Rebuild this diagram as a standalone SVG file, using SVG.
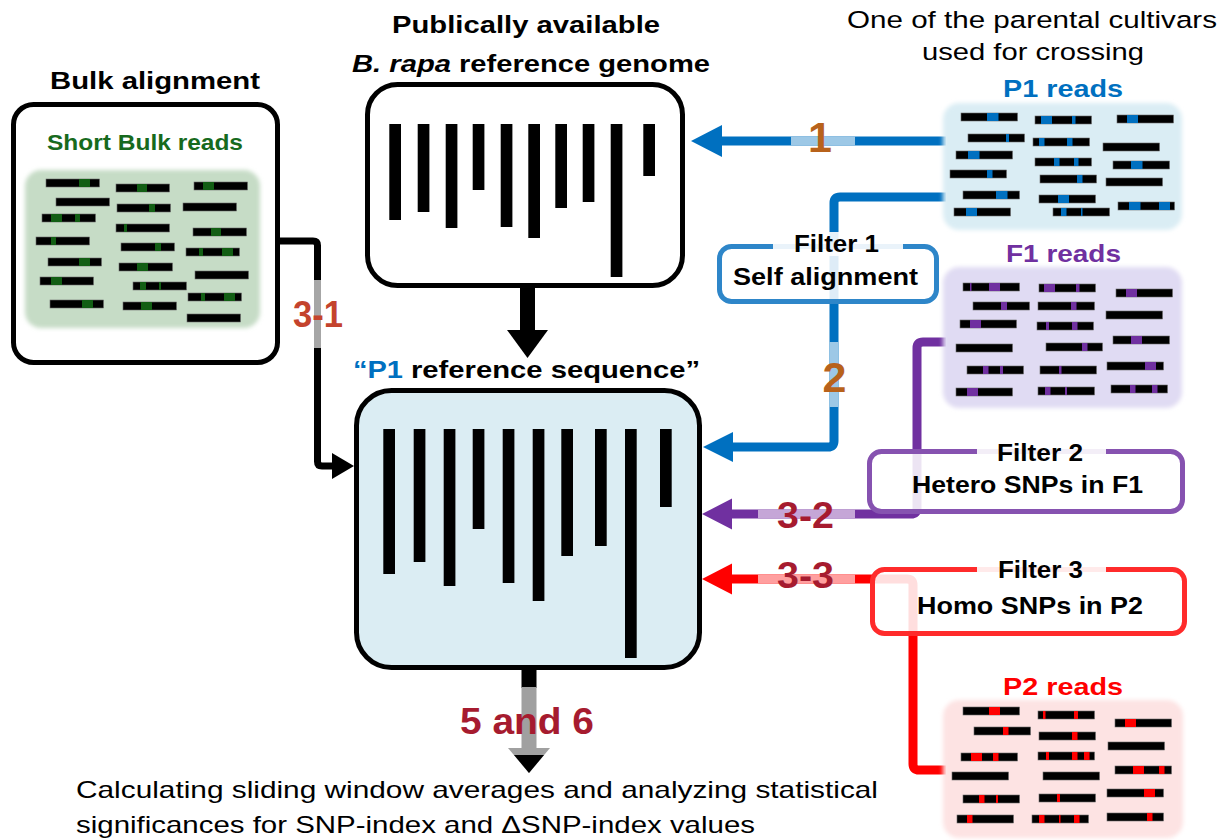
<svg xmlns="http://www.w3.org/2000/svg" width="1232" height="840" viewBox="0 0 1232 840">
<style>
text{font-family:"Liberation Sans",Arial,Helvetica,sans-serif;}
.h{font-size:24.5px;font-weight:bold;fill:#000}
.f{font-size:23px;font-weight:bold;fill:#000}
.n{font-size:24.5px;fill:#000}
.num{font-size:37px;font-weight:bold}
.rd{fill:#000;stroke:#6b6b6b;stroke-width:0.6}
.g{fill:#125e14}
.bl{fill:#0070c0}
.pu{fill:#7030a0}
.re{fill:#ff0000}
.bar{fill:#000}
.box{fill:#fff;stroke:#000;stroke-width:5}
.ln{fill:none;stroke-linejoin:round;stroke-linecap:butt}
.lab{fill:#fff;fill-opacity:0.9}
.fb{fill:#fff;fill-opacity:0.87;stroke-width:5}
</style>
<defs>
<filter id="soft" x="-5%" y="-5%" width="110%" height="110%"><feGaussianBlur stdDeviation="2"/></filter>
</defs>

<g id="connectors">
  <!-- 1: P1 reads to reference genome -->
  <path class="ln" d="M946,141 H721" stroke="#0070c0" stroke-width="9"/>
  <path class="ln" d="M791,141 H855" stroke="#9dc8e6" stroke-width="9"/>
  <polygon points="691,141 722,125 722,157" fill="#0070c0"/>
  <!-- 2: self alignment to P1 reference -->
  <path class="ln" d="M946,197 H840 Q834,197 834,203 V441 Q834,447 828,447 H732" stroke="#0070c0" stroke-width="9"/>
  <path class="ln" d="M834,342 V407" stroke="#9dc8e6" stroke-width="9"/>
  <polygon points="703,447 733,432 733,462" fill="#0070c0"/>
  <!-- 3-2: F1 -->
  <path class="ln" d="M946,342 H923 Q917,342 917,348 V508 Q917,514 911,514 H731" stroke="#7030a0" stroke-width="9"/>
  <path class="ln" d="M758,514 H855" stroke="#c5a6d7" stroke-width="9"/>
  <polygon points="702,514 732,498.5 732,529.5" fill="#7030a0"/>
  <!-- 3-3: P2 -->
  <path class="ln" d="M946,770 H919 Q913,770 913,764 V585 Q913,579 907,579 H731" stroke="#ff0000" stroke-width="9"/>
  <path class="ln" d="M758,579 H855" stroke="#ff9f9f" stroke-width="9"/>
  <polygon points="702,579 732,563.5 732,594.5" fill="#ff0000"/>
  <!-- 3-1: bulk -->
  <path class="ln" d="M280,241 H313 Q317.5,241 317.5,245.5 V461.5 Q317.5,466 322,466 H334" stroke="#000" stroke-width="7"/>
  <path class="ln" d="M317.5,280 V348" stroke="#a6a6a6" stroke-width="7"/>
  <polygon points="354,466 332,453 332,479" fill="#000"/>
  <!-- reference genome to P1 reference -->
  <rect x="520" y="286" width="15" height="46" fill="#000"/>
  <polygon points="507,330 548,330 527.5,358" fill="#000"/>
  <!-- 5 and 6 -->
  <rect x="521.5" y="669" width="15" height="19" fill="#000"/>
  <rect x="521.5" y="687" width="15" height="62" fill="#a0a0a0"/>
  <polygon points="508,748 550,748 529,773" fill="#a0a0a0"/>
  <polygon points="514,755 544,755 529,773" fill="#000"/>
  <text class="num" x="820" y="152" font-size="43" text-anchor="middle" fill="#b8621b" style="font-size:43px">1</text>
  <text class="num" x="834.5" y="392" text-anchor="middle" fill="#b8621b" style="font-size:43px">2</text>
  <text class="num" x="293" y="327" fill="#c4432d" textLength="50" lengthAdjust="spacingAndGlyphs">3-1</text>
  <text class="num" x="777" y="528" fill="#a61b2f" textLength="57" lengthAdjust="spacingAndGlyphs">3-2</text>
  <text class="num" x="777" y="588" fill="#a61b2f" textLength="57" lengthAdjust="spacingAndGlyphs">3-3</text>
  <text class="num" x="460" y="734" fill="#a61b2f" textLength="134" lengthAdjust="spacingAndGlyphs">5 and 6</text>
</g>

<g id="bulk">
  <text class="h" x="50" y="89" textLength="210" lengthAdjust="spacingAndGlyphs">Bulk alignment</text>
  <rect class="box" x="13.5" y="104.5" width="264" height="258" rx="20"/>
  <text x="47" y="150" style="font-size:22px;font-weight:bold" fill="#176a1d" textLength="196" lengthAdjust="spacingAndGlyphs">Short Bulk reads</text>
  <rect x="25" y="170" width="235" height="158" rx="16" fill="#c6dcc6" filter="url(#soft)"/>
  <g>
    <rect class="rd" x="46" y="179" width="53.5" height="8"/><rect class="g" x="79" y="179" width="11" height="8"/>
    <rect class="rd" x="56" y="198" width="53.5" height="8"/>
    <rect class="rd" x="42" y="214" width="53.5" height="8"/><rect class="g" x="51" y="214" width="11" height="8"/><rect class="g" x="75" y="214" width="5" height="8"/>
    <rect class="rd" x="36" y="237" width="53.5" height="8"/><rect class="g" x="51" y="237" width="5" height="8"/>
    <rect class="rd" x="48" y="258" width="53.5" height="8"/><rect class="g" x="79" y="258" width="11" height="8"/>
    <rect class="rd" x="40" y="277" width="53.5" height="8"/><rect class="g" x="51" y="277" width="11" height="8"/>
    <rect class="rd" x="50" y="300" width="53.5" height="8"/><rect class="g" x="82" y="300" width="11" height="8"/>
    <rect class="rd" x="116" y="184" width="53.5" height="8"/><rect class="g" x="137" y="184" width="10" height="8"/>
    <rect class="rd" x="117" y="204" width="53.5" height="8"/><rect class="g" x="149" y="204" width="6" height="8"/>
    <rect class="rd" x="116" y="224" width="53.5" height="8"/><rect class="g" x="124" y="224" width="3" height="8"/>
    <rect class="rd" x="121" y="243" width="53.5" height="8"/><rect class="g" x="155" y="243" width="6" height="8"/>
    <rect class="rd" x="119" y="263" width="53.5" height="8"/><rect class="g" x="137" y="263" width="11" height="8"/>
    <rect class="rd" x="133" y="282" width="53.5" height="8"/><rect class="g" x="140" y="282" width="6" height="8"/><rect class="g" x="159" y="282" width="2" height="8"/>
    <rect class="rd" x="123" y="302" width="53.5" height="8"/><rect class="g" x="141" y="302" width="11" height="8"/>
    <rect class="rd" x="194" y="182" width="53.5" height="8"/><rect class="g" x="203" y="182" width="11" height="8"/>
    <rect class="rd" x="183" y="203" width="53.5" height="8"/>
    <rect class="rd" x="193" y="228" width="53.5" height="8"/><rect class="g" x="211" y="228" width="10" height="8"/>
    <rect class="rd" x="186" y="248" width="53.5" height="8"/><rect class="g" x="199" y="248" width="4" height="8"/><rect class="g" x="222" y="248" width="11" height="8"/>
    <rect class="rd" x="195" y="271" width="53.5" height="8"/>
    <rect class="rd" x="188" y="293" width="53.5" height="8"/><rect class="g" x="201" y="293" width="4" height="8"/><rect class="g" x="224" y="293" width="11" height="8"/>
    <rect class="rd" x="187" y="314" width="53.5" height="8"/>
  </g>
</g>

<g id="reference-genome">
  <text class="h" x="392" y="33" textLength="268" lengthAdjust="spacingAndGlyphs">Publically available</text>
  <text class="h" x="352" y="72" font-style="italic" textLength="99" lengthAdjust="spacingAndGlyphs">B. rapa</text>
  <text class="h" x="459" y="72" textLength="251" lengthAdjust="spacingAndGlyphs">reference genome</text>
  <rect class="box" x="367.5" y="84.5" width="315" height="201" rx="30"/>
  <rect class="bar" x="389.3" y="124" width="11.7" height="96"/>
  <rect class="bar" x="417.7" y="124" width="11.7" height="88"/>
  <rect class="bar" x="445.7" y="124" width="11.7" height="104"/>
  <rect class="bar" x="472.7" y="124" width="11.7" height="66"/>
  <rect class="bar" x="500.7" y="124" width="11.7" height="103"/>
  <rect class="bar" x="528.3" y="124" width="11.7" height="114"/>
  <rect class="bar" x="555.3" y="124" width="11.7" height="84"/>
  <rect class="bar" x="582.7" y="124" width="11.7" height="78"/>
  <rect class="bar" x="610.7" y="124" width="11.7" height="153"/>
  <rect class="bar" x="643.3" y="124" width="11.7" height="52"/>
</g>

<g id="p1-reference">
  <text class="h" x="353" y="378" textLength="50" lengthAdjust="spacingAndGlyphs" fill="#0070c0" style="fill:#0070c0">“P1</text>
  <text class="h" x="411" y="378" textLength="289" lengthAdjust="spacingAndGlyphs">reference sequence”</text>
  <rect class="box" x="356.5" y="390.5" width="343" height="277" rx="35" style="fill:#dbedf3"/>
  <rect class="bar" x="383.3" y="429" width="11.7" height="145"/>
  <rect class="bar" x="413.7" y="429" width="11.7" height="133"/>
  <rect class="bar" x="443.7" y="429" width="11.7" height="157"/>
  <rect class="bar" x="472.7" y="429" width="11.7" height="100"/>
  <rect class="bar" x="502.7" y="429" width="11.7" height="154"/>
  <rect class="bar" x="532.7" y="429" width="11.7" height="172"/>
  <rect class="bar" x="561.3" y="429" width="11.7" height="127"/>
  <rect class="bar" x="595" y="429" width="11.7" height="117"/>
  <rect class="bar" x="625" y="429" width="11.7" height="229"/>
  <rect class="bar" x="660" y="429" width="11.7" height="78"/>
</g>

<g id="p1-reads">
  <text class="n" x="847" y="28" textLength="370" lengthAdjust="spacingAndGlyphs">One of the parental cultivars</text>
  <text class="n" x="922" y="60" textLength="222" lengthAdjust="spacingAndGlyphs">used for crossing</text>
  <text class="h" x="1003" y="97" textLength="120" lengthAdjust="spacingAndGlyphs" style="fill:#0070c0">P1 reads</text>
  <rect x="943" y="103" width="239" height="127" rx="16" fill="#daedf4" filter="url(#soft)"/>
  <rect class="rd" x="961" y="113" width="56.5" height="8"/><rect class="bl" x="987" y="113" width="11.5" height="8"/>
  <rect class="rd" x="968" y="134" width="56.5" height="8"/><rect class="bl" x="1006" y="134" width="3" height="8"/>
  <rect class="rd" x="956" y="151" width="56.5" height="8"/><rect class="bl" x="968" y="151" width="11.5" height="8"/>
  <rect class="rd" x="950" y="170" width="56.5" height="8"/><rect class="bl" x="987" y="170" width="5.5" height="8"/>
  <rect class="rd" x="963" y="191" width="56.5" height="8"/><rect class="bl" x="996" y="191" width="11.5" height="8"/>
  <rect class="rd" x="954" y="208" width="56.5" height="8"/><rect class="bl" x="966" y="208" width="11" height="8"/>
  <rect class="rd" x="1035" y="116" width="56.5" height="8"/><rect class="bl" x="1041" y="116" width="11" height="8"/><rect class="bl" x="1072" y="116" width="3.5" height="8"/>
  <rect class="rd" x="1033" y="138" width="56.5" height="8"/><rect class="bl" x="1039" y="138" width="5.5" height="8"/><rect class="bl" x="1067" y="138" width="5.5" height="8"/>
  <rect class="rd" x="1035" y="158" width="56.5" height="8"/><rect class="bl" x="1054" y="158" width="5.5" height="8"/><rect class="bl" x="1074" y="158" width="4.5" height="8"/>
  <rect class="rd" x="1040" y="175" width="56.5" height="8"/><rect class="bl" x="1077" y="175" width="5.5" height="8"/>
  <rect class="rd" x="1039" y="195" width="56.5" height="8"/><rect class="bl" x="1058" y="195" width="11" height="8"/>
  <rect class="rd" x="1053" y="208" width="56.5" height="8"/><rect class="bl" x="1061" y="208" width="5.5" height="8"/><rect class="bl" x="1081" y="208" width="1.5" height="8"/>
  <rect class="rd" x="1117" y="115" width="56.5" height="8"/><rect class="bl" x="1127" y="115" width="11" height="8"/>
  <rect class="rd" x="1103" y="143" width="56.5" height="8"/>
  <rect class="rd" x="1113" y="161" width="56.5" height="8"/><rect class="bl" x="1131" y="161" width="11.5" height="8"/>
  <rect class="rd" x="1106" y="178" width="56.5" height="8"/>
  <rect class="rd" x="1118" y="202" width="56.5" height="8"/><rect class="bl" x="1129" y="202" width="11.5" height="8"/><rect class="bl" x="1159" y="202" width="11" height="8"/>
</g>

<g id="f1-reads">
  <text class="h" x="1006" y="262" textLength="115" lengthAdjust="spacingAndGlyphs" style="fill:#7030a0">F1 reads</text>
  <rect x="943" y="267" width="239" height="141" rx="16" fill="#e0dbf3" filter="url(#soft)"/>
  <rect class="rd" x="963" y="283" width="56.5" height="8"/><rect class="pu" x="970" y="283" width="1.5" height="8"/><rect class="pu" x="989" y="283" width="11" height="8"/>
  <rect class="rd" x="973" y="302" width="56.5" height="8"/><rect class="pu" x="1001" y="302" width="6" height="8"/>
  <rect class="rd" x="960" y="320" width="56.5" height="8"/><rect class="pu" x="970" y="320" width="11" height="8"/>
  <rect class="rd" x="956" y="344" width="56.5" height="8"/>
  <rect class="rd" x="967" y="366" width="56.5" height="8"/><rect class="pu" x="983" y="366" width="5.5" height="8"/><rect class="pu" x="1000" y="366" width="3" height="8"/>
  <rect class="rd" x="956" y="388" width="56.5" height="8"/><rect class="pu" x="967" y="388" width="11" height="8"/>
  <rect class="rd" x="1039" y="284" width="56.5" height="8"/><rect class="pu" x="1044" y="284" width="11" height="8"/><rect class="pu" x="1076" y="284" width="3.5" height="8"/>
  <rect class="rd" x="1038" y="302" width="56.5" height="8"/><rect class="pu" x="1071" y="302" width="5.5" height="8"/>
  <rect class="rd" x="1037" y="322" width="56.5" height="8"/><rect class="pu" x="1046" y="322" width="3" height="8"/><rect class="pu" x="1072" y="322" width="5.5" height="8"/>
  <rect class="rd" x="1046" y="343" width="56.5" height="8"/><rect class="pu" x="1082" y="343" width="5.5" height="8"/>
  <rect class="rd" x="1040" y="366" width="56.5" height="8"/><rect class="pu" x="1059" y="366" width="2.5" height="8"/>
  <rect class="rd" x="1038" y="387" width="56.5" height="8"/><rect class="pu" x="1045" y="387" width="5.5" height="8"/><rect class="pu" x="1065" y="387" width="2" height="8"/>
  <rect class="rd" x="1116" y="289" width="56.5" height="8"/><rect class="pu" x="1126" y="289" width="11" height="8"/>
  <rect class="rd" x="1106" y="311" width="56.5" height="8"/>
  <rect class="rd" x="1113" y="336" width="56.5" height="8"/><rect class="pu" x="1131" y="336" width="11" height="8"/>
  <rect class="rd" x="1107" y="362" width="56.5" height="8"/><rect class="pu" x="1145" y="362" width="11" height="8"/>
  <rect class="rd" x="1111" y="385" width="56.5" height="8"/><rect class="pu" x="1130" y="385" width="5.5" height="8"/><rect class="pu" x="1152" y="385" width="5.5" height="8"/>
</g>

<g id="p2-reads">
  <text class="h" x="1003" y="695" textLength="120" lengthAdjust="spacingAndGlyphs" style="fill:#ff0000">P2 reads</text>
  <rect x="943" y="700" width="240" height="138" rx="16" fill="#fde3e3" filter="url(#soft)"/>
  <rect class="rd" x="963" y="707" width="56.5" height="8"/><rect class="re" x="989" y="707" width="11" height="8"/>
  <rect class="rd" x="974" y="727" width="56.5" height="8"/><rect class="re" x="1003" y="727" width="5.5" height="8"/>
  <rect class="rd" x="961" y="753" width="56.5" height="8"/><rect class="re" x="971" y="753" width="11" height="8"/><rect class="re" x="993" y="753" width="5.5" height="8"/>
  <rect class="rd" x="952" y="772" width="56.5" height="8"/>
  <rect class="rd" x="963" y="795" width="56.5" height="8"/><rect class="re" x="979" y="795" width="5.5" height="8"/><rect class="re" x="996" y="795" width="2" height="8"/>
  <rect class="rd" x="957" y="815" width="56.5" height="8"/><rect class="re" x="967" y="815" width="5.5" height="8"/>
  <rect class="rd" x="1038" y="711" width="56.5" height="8"/><rect class="re" x="1043" y="711" width="2.5" height="8"/><rect class="re" x="1074" y="711" width="4" height="8"/>
  <rect class="rd" x="1039" y="732" width="56.5" height="8"/><rect class="re" x="1072" y="732" width="5.5" height="8"/>
  <rect class="rd" x="1038" y="752" width="56.5" height="8"/><rect class="re" x="1046" y="752" width="3" height="8"/><rect class="re" x="1072" y="752" width="5.5" height="8"/><rect class="re" x="1084" y="752" width="5.5" height="8"/>
  <rect class="rd" x="1043" y="772" width="56.5" height="8"/>
  <rect class="rd" x="1039" y="794" width="56.5" height="8"/><rect class="re" x="1057" y="794" width="3" height="8"/>
  <rect class="rd" x="1032" y="815" width="56.5" height="8"/><rect class="re" x="1039" y="815" width="5.5" height="8"/><rect class="re" x="1059" y="815" width="1.5" height="8"/><rect class="re" x="1074" y="815" width="5.5" height="8"/>
  <rect class="rd" x="1115" y="719" width="56.5" height="8"/><rect class="re" x="1125" y="719" width="11" height="8"/>
  <rect class="rd" x="1108" y="742" width="56.5" height="8"/>
  <rect class="rd" x="1115" y="766" width="56.5" height="8"/><rect class="re" x="1133" y="766" width="11" height="8"/><rect class="re" x="1159" y="766" width="5.5" height="8"/>
  <rect class="rd" x="1107" y="789" width="56.5" height="8"/><rect class="re" x="1144" y="789" width="11" height="8"/>
  <rect class="rd" x="1107" y="813" width="56.5" height="8"/><rect class="re" x="1147" y="813" width="5.5" height="8"/>
</g>

<g id="filter1">
  <rect class="fb" x="719.5" y="246.5" width="217" height="55" rx="12" stroke="#2e86c9"/>
  <rect class="lab" x="773" y="232" width="130" height="24"/>
  <text class="f" x="794" y="252" textLength="85" lengthAdjust="spacingAndGlyphs">Filter 1</text>
  <text class="f" x="733" y="285" textLength="185" lengthAdjust="spacingAndGlyphs">Self alignment</text>
</g>

<g id="filter2">
  <rect class="fb" x="869.5" y="451.5" width="313" height="60" rx="12" stroke="#8652b0"/>
  <rect class="lab" x="977" y="439" width="129" height="24"/>
  <text class="f" x="997" y="461" textLength="86" lengthAdjust="spacingAndGlyphs">Filter 2</text>
  <text class="f" x="912" y="493" textLength="231" lengthAdjust="spacingAndGlyphs">Hetero SNPs in F1</text>
</g>

<g id="filter3">
  <rect class="fb" x="872.5" y="569.5" width="312" height="64" rx="12" stroke="#ff2b2b"/>
  <rect class="lab" x="977" y="556" width="129" height="24"/>
  <text class="f" x="998" y="578" textLength="85" lengthAdjust="spacingAndGlyphs">Filter 3</text>
  <text class="f" x="917" y="614" textLength="226" lengthAdjust="spacingAndGlyphs">Homo SNPs in P2</text>
</g>

<g id="result">
  <text class="n" x="76" y="798" style="font-size:24px" textLength="802" lengthAdjust="spacingAndGlyphs">Calculating sliding window averages and analyzing statistical</text>
  <text class="n" x="76" y="833" style="font-size:24px" textLength="679" lengthAdjust="spacingAndGlyphs">significances for SNP-index and ΔSNP-index values</text>
</g>
</svg>
